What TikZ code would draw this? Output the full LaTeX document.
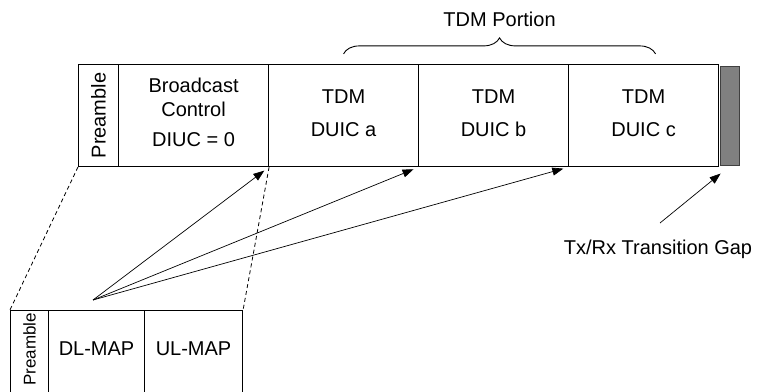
\documentclass[tikz,border=0pt]{standalone}
\usepackage{fontspec}
\setmainfont{Liberation Sans}
\usetikzlibrary{positioning,arrows.meta,decorations.pathreplacing}

\tikzset{
  slot/.style={draw, line width=1.1pt, inner sep=0pt, anchor=south west, minimum height=102pt},
  lowslot/.style={draw, line width=1.1pt, inner sep=0pt, anchor=south west, minimum height=90pt},
  lbl/.style={font=\fontsize{20}{23}\selectfont, align=center, inner sep=0pt},
  link/.style={line width=0.7pt, -{Triangle[length=11pt,width=8pt]}, shorten >=6pt},
  proj/.style={line width=0.8pt, dash pattern=on 4pt off 3pt},
}

\begin{document}
\begin{tikzpicture}[x=1pt, y=1pt]
\useasboundingbox (0,0) rectangle (759,391);

\node [slot, minimum width=40pt] (pre) at (78,224) {};
\node [slot, minimum width=150pt] (bc) at (118,224) {};
\node [slot, minimum width=150pt] (a) at (268,224) {};
\node [slot, minimum width=150pt] (b) at (418,224) {};
\node [slot, minimum width=150pt] (c) at (568,224) {};
\node [draw=black!75, fill=black!50, line width=0.8pt, inner sep=0pt, anchor=south west, minimum width=19pt, minimum height=99pt] (gap) at (720,225) {};

\node [lbl, rotate=90] at (pre.center) {Preamble};
\node [lbl, anchor=base] at ([yshift=-83pt]bc.north) {Broadcast\\[1pt]Control\\[7pt]DIUC = 0};
\node [lbl, anchor=base] at ([yshift=-73pt]a.north) {TDM\\[10pt]DUIC a};
\node [lbl, anchor=base] at ([yshift=-73pt]b.north) {TDM\\[10pt]DUIC b};
\node [lbl, anchor=base] at ([yshift=-73pt]c.north) {TDM\\[10pt]DUIC c};

\draw [line width=0.9pt] [decorate, decoration={brace, amplitude=16pt}] ([yshift=10pt]a.north) -- ([xshift=12pt, yshift=10pt]c.north)
  node [lbl, midway, above=27pt] {TDM Portion};

% map burst
\node [lowslot, minimum width=38pt] (lpre) at (10,-10) {};
\node [lowslot, minimum width=96pt] (dl) at (48,-10) {};
\node [lowslot, minimum width=98pt] (ul) at (144,-10) {};
\node [lbl, rotate=90, anchor=east, font=\fontsize{17}{20}\selectfont] at ([yshift=-3pt]lpre.north) {Preamble};
\node [lbl, anchor=base] at ([yshift=-46pt]dl.north) {DL-MAP};
\node [lbl, anchor=base] at ([yshift=-46pt]ul.north) {UL-MAP};

\draw [proj] (pre.south west) -- (lpre.north west);
\draw [proj] (bc.south east) -- (ul.north east);

\coordinate (mapsrc) at (93,91);
\draw [link] (mapsrc) -- (bc.south east);
\draw [link] (mapsrc) -- (a.south east);
\draw [link] (mapsrc) -- (b.south east);

\node [lbl, anchor=base] (gaplbl) at (658,137) {Tx/Rx Transition Gap};
\coordinate (gaptail) at (660,168);
\draw [link] [shorten >=12pt] (gaptail) -- (gap.south);
\end{tikzpicture}
\end{document}
